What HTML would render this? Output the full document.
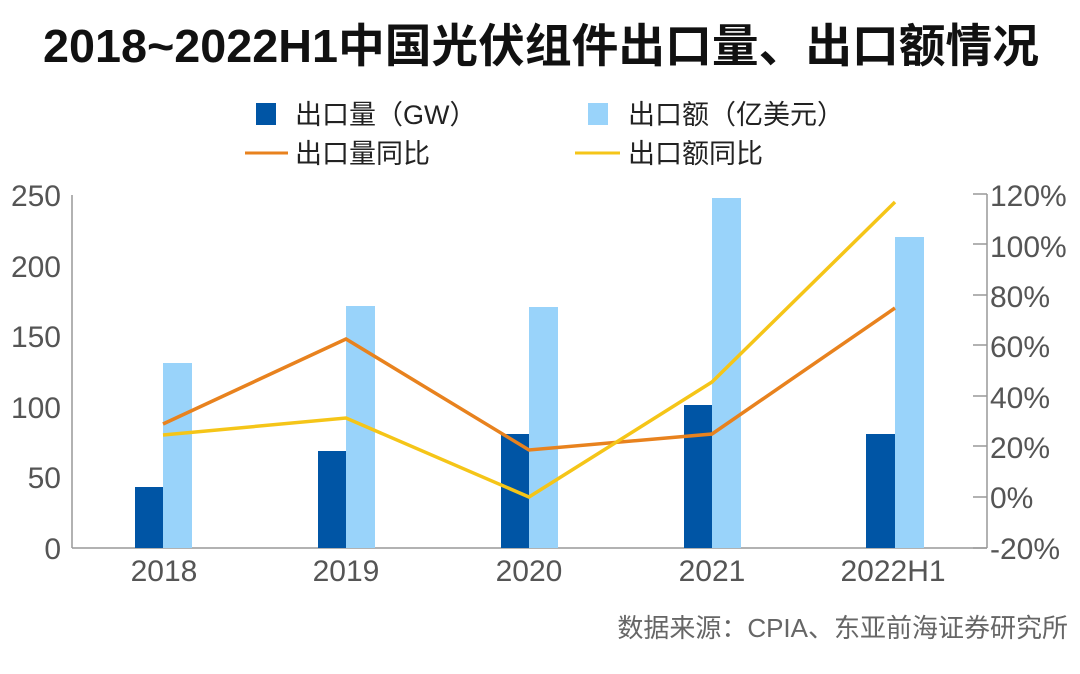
<!DOCTYPE html>
<html><head><meta charset="utf-8"><style>
body{margin:0;background:#fff;width:1080px;height:669px;overflow:hidden}
svg text{font-family:"Liberation Sans","Noto Sans CJK SC",sans-serif}
</style></head><body>
<svg width="1080" height="669" viewBox="0 0 1080 669">
<text x="541" y="62" text-anchor="middle" font-size="46" font-weight="bold" fill="#111" textLength="996" lengthAdjust="spacingAndGlyphs">2018~2022H1中国光伏组件出口量、出口额情况</text>
<rect x="256" y="103" width="20" height="22" fill="#0055a5"/>
<text x="295" y="124" font-size="27" fill="#222">出口量（GW）</text>
<rect x="588" y="103" width="20" height="22" fill="#99d3fa"/>
<text x="628" y="124" font-size="27" fill="#222">出口额（亿美元）</text>
<line x1="245" y1="153" x2="288" y2="153" stroke="#e8821e" stroke-width="3"/>
<text x="295" y="163" font-size="27" fill="#222">出口量同比</text>
<line x1="575" y1="153" x2="620" y2="153" stroke="#f5c518" stroke-width="3"/>
<text x="628" y="163" font-size="27" fill="#222">出口额同比</text>
<g fill="#555" font-size="30" text-anchor="end">
<text x="61" y="559">0</text><text x="61" y="488">50</text><text x="61" y="418">100</text><text x="61" y="347">150</text><text x="61" y="277">200</text><text x="61" y="206">250</text>
</g>
<g fill="#555" font-size="30">
<text x="990" y="559">-20%</text><text x="990" y="508">0%</text><text x="990" y="458">20%</text><text x="990" y="408">40%</text><text x="990" y="357">60%</text><text x="990" y="307">80%</text><text x="990" y="257">100%</text><text x="990" y="206">120%</text>
</g>
<g stroke="#999" stroke-width="1.5">
<line x1="72" y1="195" x2="72" y2="548"/>
<line x1="72" y1="548" x2="987" y2="548"/>
<line x1="987" y1="194" x2="987" y2="548"/>
<line x1="973" y1="194" x2="987" y2="194"/><line x1="973" y1="244" x2="987" y2="244"/><line x1="973" y1="295" x2="987" y2="295"/><line x1="973" y1="345" x2="987" y2="345"/><line x1="973" y1="396" x2="987" y2="396"/><line x1="973" y1="446" x2="987" y2="446"/><line x1="973" y1="497" x2="987" y2="497"/><line x1="973" y1="548" x2="987" y2="548"/>
</g>
<g fill="#0055a5">
<rect x="135" y="487" width="28" height="61"/><rect x="318" y="451" width="28" height="97"/><rect x="501" y="434" width="28" height="114"/><rect x="684" y="405" width="28" height="143"/><rect x="866" y="434" width="29" height="114"/>
</g>
<g fill="#99d3fa">
<rect x="163" y="363" width="29" height="185"/><rect x="346" y="306" width="29" height="242"/><rect x="529" y="307" width="29" height="241"/><rect x="712" y="198" width="29" height="350"/><rect x="895" y="237" width="29" height="311"/>
</g>
<polyline points="163,424 346,339 529,450 712,434 895,308" fill="none" stroke="#e8821e" stroke-width="3.5"/>
<polyline points="163,435 346,418 529,497 712,382 895,202" fill="none" stroke="#f5c518" stroke-width="3.5"/>
<g fill="#555" font-size="30" text-anchor="middle">
<text x="164" y="581">2018</text><text x="346" y="581">2019</text><text x="529" y="581">2020</text><text x="712" y="581">2021</text><text x="893" y="581">2022H1</text>
</g>
<text x="1068" y="637" text-anchor="end" font-size="26" fill="#666">数据来源：CPIA、东亚前海证券研究所</text>
</svg>
</body></html>
